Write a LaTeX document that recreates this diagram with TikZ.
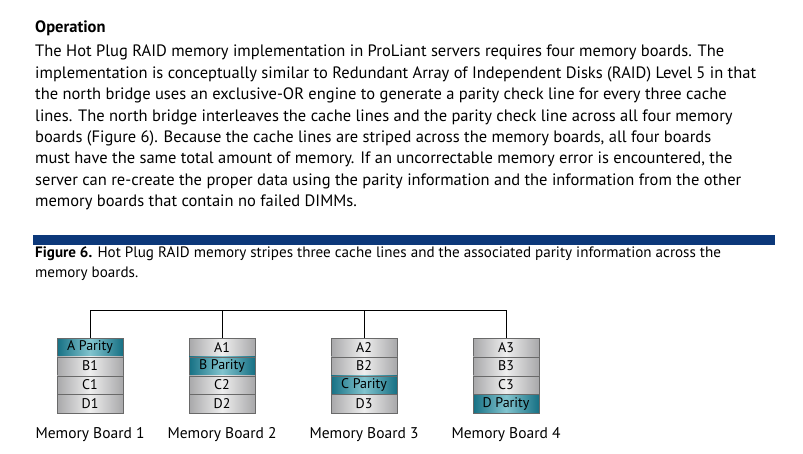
\documentclass[tikz,border=0pt]{standalone}
\usepackage{fontspec}
\setmainfont{PT Sans}
\usetikzlibrary{positioning}
\definecolor{barblue}{RGB}{12,56,122}
\definecolor{cellgray}{RGB}{168,168,170}
\definecolor{cellwhite}{RGB}{238,238,238}
\definecolor{tealdark}{RGB}{22,112,132}
\definecolor{teallight}{RGB}{130,196,206}
\definecolor{cellline}{RGB}{105,105,105}
\begin{document}
\begin{tikzpicture}[x=1pt,y=-1pt,
  cell/.style={draw=cellline, line width=0.6pt, minimum width=66pt, minimum height=18.3pt,
    inner sep=0pt, font=\fontsize{14}{14}\selectfont,
    left color=cellgray, right color=cellgray, middle color=cellwhite},
  parity/.style={cell, left color=tealdark, right color=tealdark, middle color=teallight},
  board/.style={font=\fontsize{15.5}{15.5}\selectfont, inner sep=0pt}]
\useasboundingbox (0,0) rectangle (803,453);

% text above the figure
\node[anchor=base west, inner sep=0pt, font=\fontsize{16.5}{16.5}\selectfont\bfseries] (head) at (35,32) {Operation};
\node[anchor=north west, inner sep=0pt, align=left, font=\fontsize{16.5}{21.4}\selectfont] (body) at (35,45)
 {The Hot Plug RAID memory implementation in ProLiant servers requires four memory boards. The\\
  implementation is conceptually similar to Redundant Array of Independent Disks (RAID) Level 5 in that\\
  the north bridge uses an exclusive-OR engine to generate a parity check line for every three cache\\
  lines. The north bridge interleaves the cache lines and the parity check line across all four memory\\
  boards (Figure 6). Because the cache lines are striped across the memory boards, all four boards\\
  must have the same total amount of memory. If an uncorrectable memory error is encountered, the\\
  server can re-create the proper data using the parity information and the information from the other\\
  memory boards that contain no failed DIMMs.};

% figure bar and caption
\fill[barblue] (33,235) rectangle (775,245);
\node[anchor=north west, inner sep=0pt, align=left, font=\fontsize{15.1}{20}\selectfont] (caption) at (35,247)
 {\textbf{Figure 6.} Hot Plug RAID memory stripes three cache lines and the associated parity information across the\\
  memory boards.};

% memory boards
\node[parity] (1a) at (90,347.15) {A Parity};
\node[cell, below=0pt of 1a] (1b) {B1};
\node[cell, below=0pt of 1b] (1c) {C1};
\node[cell, below=0pt of 1c] (1d) {D1};

\node[cell] (2a) at (222,347.15) {A1};
\node[parity, below=0pt of 2a] (2b) {B Parity};
\node[cell, below=0pt of 2b] (2c) {C2};
\node[cell, below=0pt of 2c] (2d) {D2};

\node[cell] (3a) at (364,347.15) {A2};
\node[cell, below=0pt of 3a] (3b) {B2};
\node[parity, below=0pt of 3b] (3c) {C Parity};
\node[cell, below=0pt of 3c] (3d) {D3};

\node[cell] (4a) at (506,347.15) {A3};
\node[cell, below=0pt of 4a] (4b) {B3};
\node[cell, below=0pt of 4b] (4c) {C3};
\node[parity, below=0pt of 4c] (4d) {D Parity};

\node[board, below=14pt of 1d] (m1) {Memory Board 1};
\node[board, below=14pt of 2d] (m2) {Memory Board 2};
\node[board, below=14pt of 3d] (m3) {Memory Board 3};
\node[board, below=14pt of 4d] (m4) {Memory Board 4};

% bus
\coordinate (bus) at (0,310);
\path[draw,line width=1pt] (1a.north) |- (bus -| 4a.north) -- (4a.north);
\path[draw,line width=1pt] (2a.north) -- (2a.north |- bus);
\path[draw,line width=1pt] (3a.north) -- (3a.north |- bus);
\end{tikzpicture}
\end{document}
